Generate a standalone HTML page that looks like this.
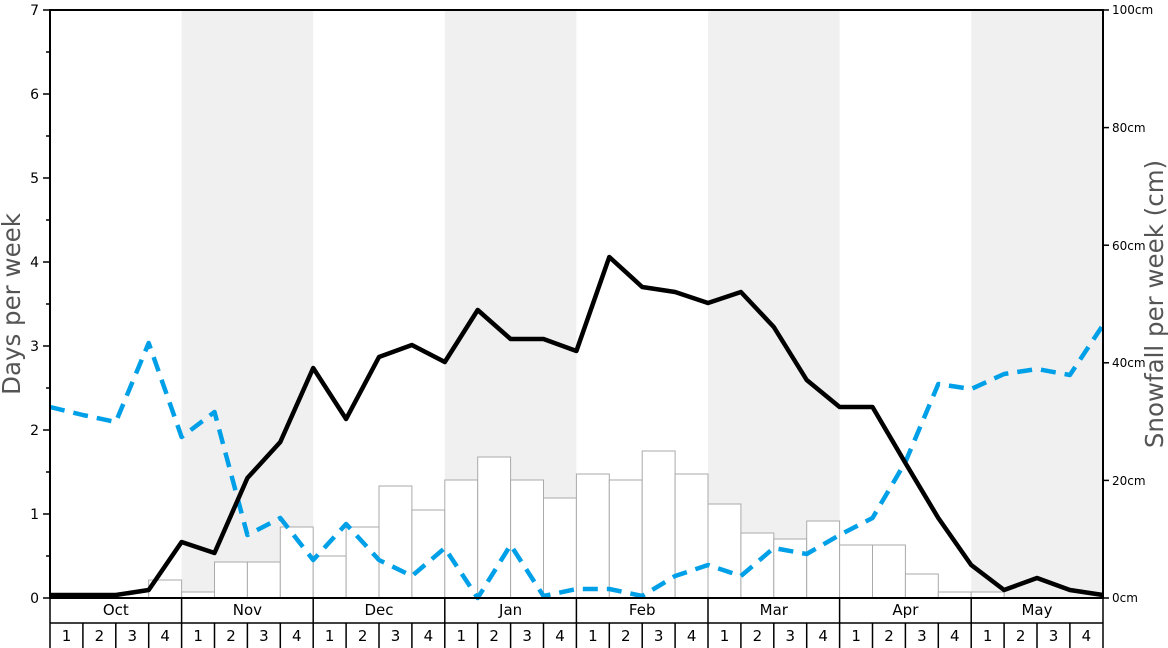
<!DOCTYPE html><html><head><style>body{margin:0;background:#fff}svg{display:block;font-family:"DejaVu Sans","Liberation Sans",sans-serif}</style></head><body>
<svg width="1168" height="648" viewBox="0 0 1168 648">
<g fill="#f0f0f0"><rect x="181.6" y="10" width="131.6" height="588"/><rect x="444.8" y="10" width="131.6" height="588"/><rect x="708" y="10" width="131.6" height="588"/><rect x="971.2" y="10" width="131.8" height="588"/></g>
<g fill="#fff" stroke="#aaa" stroke-width="1">
<rect x="148.7" y="580" width="32.9" height="18"/>
<rect x="181.6" y="592" width="32.9" height="6"/><rect x="214.5" y="562" width="32.9" height="36"/><rect x="247.4" y="562" width="32.9" height="36"/><rect x="280.3" y="527" width="32.9" height="71"/>
<rect x="313.2" y="556" width="32.9" height="42"/><rect x="346.1" y="527" width="32.9" height="71"/><rect x="379" y="486" width="32.9" height="112"/><rect x="411.9" y="510" width="32.9" height="88"/>
<rect x="444.8" y="480" width="32.9" height="118"/><rect x="477.7" y="457" width="32.9" height="141"/><rect x="510.6" y="480" width="32.9" height="118"/><rect x="543.5" y="498" width="32.9" height="100"/>
<rect x="576.4" y="474" width="32.9" height="124"/><rect x="609.3" y="480" width="32.9" height="118"/><rect x="642.2" y="451" width="32.9" height="147"/><rect x="675.1" y="474" width="32.9" height="124"/>
<rect x="708" y="504" width="32.9" height="94"/><rect x="740.9" y="533" width="32.9" height="65"/><rect x="773.8" y="539" width="32.9" height="59"/><rect x="806.7" y="521" width="32.9" height="77"/>
<rect x="839.6" y="545" width="32.9" height="53"/><rect x="872.5" y="545" width="32.9" height="53"/><rect x="905.4" y="574" width="32.9" height="24"/><rect x="938.3" y="592" width="32.9" height="6"/>
<rect x="971.2" y="592" width="32.9" height="6"/>
</g>
<polyline fill="none" stroke="#00a0e8" stroke-width="4.5" stroke-dasharray="15,9" stroke-linejoin="round" points="50,407 82.9,415 115.8,422 148.7,343 181.6,437 214.5,412 247.4,535 280.3,518 313.2,560 346.1,524 379,560 411.9,576 444.8,548 477.7,598 510.6,545 543.5,596 576.4,589 609.3,589 642.2,596 675.1,576 708,565 740.9,576 773.8,548 806.7,554 839.6,535 872.5,518 905.4,462 938.3,384 971.2,389 1004.1,374 1037,369 1069.9,375 1103,325"/>
<polyline fill="none" stroke="#000" stroke-width="4.5" stroke-linejoin="round" points="50,595 82.9,595 115.8,595 148.7,590 181.6,542 214.5,553 247.4,478 280.3,442 313.2,368 346.1,419 379,357 411.9,345 444.8,362 477.7,310 510.6,339 543.5,339 576.4,351 609.3,257 642.2,287 675.1,292 708,303 740.9,292 773.8,327 806.7,380 839.6,407 872.5,407 905.4,463 938.3,518 971.2,565 1004.1,590 1037,578 1069.9,590 1103,595"/>
<rect x="50" y="10" width="1053" height="588" fill="none" stroke="#000" stroke-width="2"/>
<g stroke="#000" stroke-width="1.5">
<line x1="43" y1="598" x2="50" y2="598"/><line x1="43" y1="514" x2="50" y2="514"/><line x1="43" y1="430" x2="50" y2="430"/><line x1="43" y1="346" x2="50" y2="346"/><line x1="43" y1="262" x2="50" y2="262"/><line x1="43" y1="178" x2="50" y2="178"/><line x1="43" y1="94" x2="50" y2="94"/><line x1="43" y1="10" x2="50" y2="10"/>
<line x1="46" y1="556" x2="50" y2="556"/><line x1="46" y1="472" x2="50" y2="472"/><line x1="46" y1="388" x2="50" y2="388"/><line x1="46" y1="304" x2="50" y2="304"/><line x1="46" y1="220" x2="50" y2="220"/><line x1="46" y1="136" x2="50" y2="136"/><line x1="46" y1="52" x2="50" y2="52"/>
<line x1="1103" y1="598" x2="1109" y2="598"/><line x1="1103" y1="480.4" x2="1109" y2="480.4"/><line x1="1103" y1="362.8" x2="1109" y2="362.8"/><line x1="1103" y1="245.2" x2="1109" y2="245.2"/><line x1="1103" y1="127.6" x2="1109" y2="127.6"/><line x1="1103" y1="10" x2="1109" y2="10"/>
</g>
<g font-size="14" text-anchor="end"><text x="39" y="603">0</text><text x="39" y="519">1</text><text x="39" y="435">2</text><text x="39" y="351">3</text><text x="39" y="267">4</text><text x="39" y="183">5</text><text x="39" y="99">6</text><text x="39" y="15">7</text></g>
<g font-size="12"><text x="1112" y="602">0cm</text><text x="1112" y="485">20cm</text><text x="1112" y="367">40cm</text><text x="1112" y="250">60cm</text><text x="1112" y="132">80cm</text><text x="1112" y="14">100cm</text></g>
<text transform="translate(20,304) rotate(-90)" font-size="24.5" fill="#555" text-anchor="middle">Days per week</text>
<text transform="translate(1163,304) rotate(-90)" font-size="24.5" fill="#555" text-anchor="middle">Snowfall per week (cm)</text>
<g stroke="#000" stroke-width="1.5" fill="none">
<line x1="50" y1="623" x2="1103" y2="623"/><line x1="50" y1="598" x2="50" y2="648"/><line x1="1103" y1="598" x2="1103" y2="648"/>
<line x1="181.6" y1="598" x2="181.6" y2="648"/><line x1="313.2" y1="598" x2="313.2" y2="648"/><line x1="444.8" y1="598" x2="444.8" y2="648"/><line x1="576.4" y1="598" x2="576.4" y2="648"/><line x1="708" y1="598" x2="708" y2="648"/><line x1="839.6" y1="598" x2="839.6" y2="648"/><line x1="971.2" y1="598" x2="971.2" y2="648"/>
<line x1="82.9" y1="623" x2="82.9" y2="648"/><line x1="115.8" y1="623" x2="115.8" y2="648"/><line x1="148.7" y1="623" x2="148.7" y2="648"/><line x1="214.5" y1="623" x2="214.5" y2="648"/><line x1="247.4" y1="623" x2="247.4" y2="648"/><line x1="280.3" y1="623" x2="280.3" y2="648"/><line x1="346.1" y1="623" x2="346.1" y2="648"/><line x1="379" y1="623" x2="379" y2="648"/><line x1="411.9" y1="623" x2="411.9" y2="648"/><line x1="477.7" y1="623" x2="477.7" y2="648"/><line x1="510.6" y1="623" x2="510.6" y2="648"/><line x1="543.5" y1="623" x2="543.5" y2="648"/><line x1="609.3" y1="623" x2="609.3" y2="648"/><line x1="642.2" y1="623" x2="642.2" y2="648"/><line x1="675.1" y1="623" x2="675.1" y2="648"/><line x1="740.9" y1="623" x2="740.9" y2="648"/><line x1="773.8" y1="623" x2="773.8" y2="648"/><line x1="806.7" y1="623" x2="806.7" y2="648"/><line x1="872.5" y1="623" x2="872.5" y2="648"/><line x1="905.4" y1="623" x2="905.4" y2="648"/><line x1="938.3" y1="623" x2="938.3" y2="648"/><line x1="1004.1" y1="623" x2="1004.1" y2="648"/><line x1="1037" y1="623" x2="1037" y2="648"/><line x1="1069.9" y1="623" x2="1069.9" y2="648"/>
</g>
<g font-size="15" text-anchor="middle">
<text x="115.8" y="615">Oct</text><text x="247.4" y="615">Nov</text><text x="379" y="615">Dec</text><text x="510.6" y="615">Jan</text><text x="642.2" y="615">Feb</text><text x="773.8" y="615">Mar</text><text x="905.4" y="615">Apr</text><text x="1037" y="615">May</text>
<text x="66.5" y="641">1</text><text x="99.4" y="641">2</text><text x="132.3" y="641">3</text><text x="165.2" y="641">4</text>
<text x="198.1" y="641">1</text><text x="231" y="641">2</text><text x="263.9" y="641">3</text><text x="296.8" y="641">4</text>
<text x="329.7" y="641">1</text><text x="362.6" y="641">2</text><text x="395.5" y="641">3</text><text x="428.4" y="641">4</text>
<text x="461.3" y="641">1</text><text x="494.2" y="641">2</text><text x="527.1" y="641">3</text><text x="560" y="641">4</text>
<text x="592.9" y="641">1</text><text x="625.8" y="641">2</text><text x="658.7" y="641">3</text><text x="691.6" y="641">4</text>
<text x="724.5" y="641">1</text><text x="757.4" y="641">2</text><text x="790.3" y="641">3</text><text x="823.2" y="641">4</text>
<text x="856.1" y="641">1</text><text x="889" y="641">2</text><text x="921.9" y="641">3</text><text x="954.8" y="641">4</text>
<text x="987.7" y="641">1</text><text x="1020.6" y="641">2</text><text x="1053.5" y="641">3</text><text x="1086.4" y="641">4</text>
</g>
</svg></body></html>
